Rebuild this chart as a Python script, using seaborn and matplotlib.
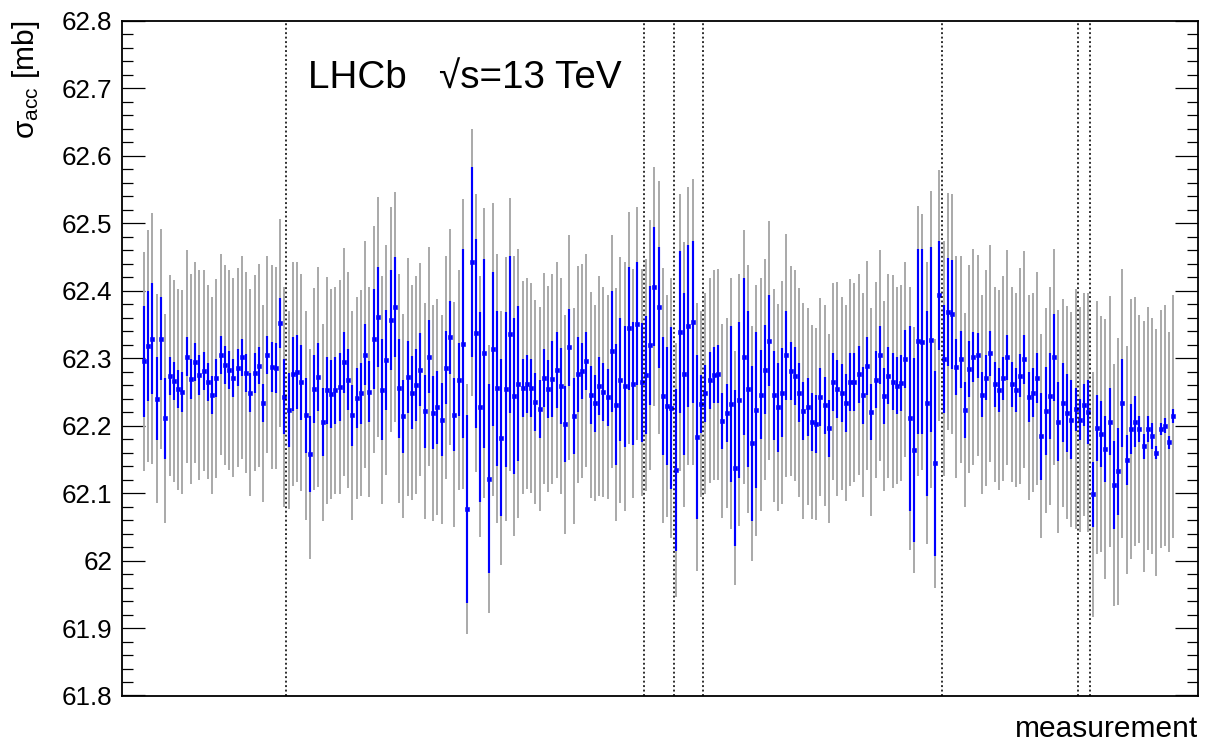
import numpy as np
import pandas as pd
import matplotlib
matplotlib.use("Agg")
import matplotlib.pyplot as plt
from matplotlib.ticker import MultipleLocator, FuncFormatter
import seaborn as sns

# ---- data ----
sigma = [
    62.295, 62.318, 62.329, 62.240, 62.329, 62.211, 62.274, 62.266, 62.254, 62.250,
    62.302, 62.269, 62.294, 62.275, 62.281, 62.265, 62.245, 62.270, 62.305, 62.290,
    62.282, 62.271, 62.286, 62.301, 62.278, 62.249, 62.278, 62.289, 62.233, 62.305,
    62.287, 62.285, 62.352, 62.243, 62.223, 62.277, 62.279, 62.264, 62.215, 62.158,
    62.254, 62.272, 62.205, 62.252, 62.247, 62.252, 62.257, 62.294, 62.268, 62.215,
    62.241, 62.248, 62.305, 62.250, 62.328, 62.361, 62.253, 62.297, 62.357, 62.376,
    62.255, 62.214, 62.272, 62.249, 62.260, 62.283, 62.221, 62.302, 62.219, 62.227,
    62.209, 62.286, 62.331, 62.216, 62.268, 62.321, 62.076, 62.442, 62.337, 62.228,
    62.307, 62.121, 62.313, 62.255, 62.182, 62.254, 62.335, 62.244, 62.262, 62.256,
    62.262, 62.256, 62.235, 62.224, 62.270, 62.254, 62.269, 62.282, 62.259, 62.202,
    62.316, 62.214, 62.276, 62.281, 62.296, 62.245, 62.233, 62.258, 62.250, 62.242,
    62.310, 62.231, 62.268, 62.258, 62.344, 62.262, 62.351, 62.264, 62.275, 62.319,
    62.406, 62.375, 62.244, 62.229, 62.226, 62.134, 62.338, 62.276, 62.347, 62.353,
    62.183, 62.232, 62.248, 62.267, 62.275, 62.276, 62.207, 62.219, 62.232, 62.137,
    62.238, 62.302, 62.254, 62.174, 62.223, 62.246, 62.283, 62.326, 62.245, 62.227,
    62.249, 62.304, 62.281, 62.274, 62.249, 62.222, 62.228, 62.205, 62.202, 62.242,
    62.230, 62.196, 62.265, 62.254, 62.248, 62.233, 62.264, 62.264, 62.276, 62.245,
    62.289, 62.220, 62.268, 62.304, 62.244, 62.274, 62.265, 62.259, 62.263, 62.298,
    62.211, 62.164, 62.325, 62.324, 62.233, 62.327, 62.144, 62.393, 62.299, 62.369,
    62.365, 62.287, 62.298, 62.223, 62.284, 62.301, 62.304, 62.246, 62.271, 62.307,
    62.261, 62.253, 62.270, 62.301, 62.261, 62.253, 62.274, 62.298, 62.242, 62.249,
    62.270, 62.184, 62.222, 62.244, 62.301, 62.206, 62.234, 62.219, 62.209, 62.224,
    62.209, 62.231, 62.220, 62.098, 62.197, 62.188, 62.165, 62.206, 62.112, 62.132,
    62.233, 62.149, 62.195, 62.206, 62.195, 62.169, 62.195, 62.185, 62.160, 62.195,
    62.200, 62.175, 62.214,
]
stat_err = [
    0.082, 0.082, 0.082, 0.061, 0.061, 0.060, 0.028, 0.028, 0.028, 0.030,
    0.029, 0.030, 0.028, 0.029, 0.028, 0.028, 0.028, 0.028, 0.028, 0.028,
    0.028, 0.028, 0.028, 0.028, 0.028, 0.029, 0.029, 0.028, 0.028, 0.028,
    0.037, 0.037, 0.037, 0.055, 0.055, 0.055, 0.055, 0.056, 0.056, 0.056,
    0.050, 0.050, 0.050, 0.050, 0.050, 0.050, 0.050, 0.045, 0.045, 0.045,
    0.045, 0.045, 0.045, 0.045, 0.074, 0.074, 0.075, 0.074, 0.074, 0.074,
    0.074, 0.054, 0.054, 0.054, 0.053, 0.054, 0.054, 0.054, 0.054, 0.054,
    0.054, 0.054, 0.054, 0.054, 0.054, 0.140, 0.139, 0.141, 0.140, 0.141,
    0.140, 0.140, 0.114, 0.115, 0.116, 0.115, 0.116, 0.116, 0.115, 0.043,
    0.043, 0.043, 0.043, 0.043, 0.043, 0.043, 0.056, 0.056, 0.056, 0.056,
    0.057, 0.056, 0.056, 0.042, 0.043, 0.043, 0.042, 0.043, 0.043, 0.042,
    0.090, 0.090, 0.091, 0.090, 0.091, 0.091, 0.091, 0.088, 0.087, 0.088,
    0.088, 0.089, 0.088, 0.088, 0.120, 0.120, 0.120, 0.120, 0.120, 0.120,
    0.121, 0.043, 0.042, 0.042, 0.042, 0.043, 0.042, 0.043, 0.115, 0.115,
    0.116, 0.116, 0.116, 0.115, 0.116, 0.066, 0.066, 0.067, 0.066, 0.066,
    0.066, 0.066, 0.043, 0.043, 0.043, 0.043, 0.043, 0.043, 0.043, 0.043,
    0.042, 0.042, 0.043, 0.043, 0.043, 0.043, 0.043, 0.043, 0.042, 0.042,
    0.043, 0.042, 0.042, 0.043, 0.042, 0.042, 0.042, 0.042, 0.042, 0.043,
    0.137, 0.136, 0.137, 0.137, 0.137, 0.137, 0.137, 0.081, 0.080, 0.080,
    0.081, 0.042, 0.042, 0.042, 0.042, 0.037, 0.033, 0.033, 0.033, 0.033,
    0.033, 0.033, 0.032, 0.033, 0.033, 0.033, 0.032, 0.036, 0.037, 0.036,
    0.037, 0.064, 0.065, 0.064, 0.065, 0.058, 0.058, 0.058, 0.059, 0.032,
    0.030, 0.031, 0.048, 0.048, 0.049, 0.049, 0.049, 0.049, 0.065, 0.065,
    0.065, 0.037, 0.037, 0.038, 0.019, 0.019, 0.019, 0.019, 0.010, 0.009,
    0.011, 0.010, 0.010,
]
total_err = [
    0.162, 0.172, 0.186, 0.155, 0.163, 0.155, 0.149, 0.149, 0.149, 0.151,
    0.158, 0.156, 0.149, 0.155, 0.149, 0.144, 0.146, 0.147, 0.149, 0.148,
    0.148, 0.147, 0.147, 0.150, 0.149, 0.154, 0.145, 0.150, 0.146, 0.146,
    0.151, 0.150, 0.154, 0.163, 0.147, 0.166, 0.163, 0.161, 0.155, 0.155,
    0.150, 0.163, 0.146, 0.168, 0.156, 0.153, 0.159, 0.169, 0.160, 0.155,
    0.150, 0.153, 0.168, 0.156, 0.168, 0.178, 0.169, 0.170, 0.167, 0.170,
    0.170, 0.151, 0.176, 0.160, 0.161, 0.158, 0.160, 0.162, 0.160, 0.160,
    0.155, 0.165, 0.160, 0.167, 0.163, 0.215, 0.185, 0.198, 0.206, 0.193,
    0.215, 0.199, 0.217, 0.200, 0.188, 0.196, 0.202, 0.208, 0.199, 0.158,
    0.156, 0.156, 0.151, 0.151, 0.156, 0.153, 0.155, 0.160, 0.160, 0.162,
    0.167, 0.160, 0.161, 0.159, 0.158, 0.153, 0.145, 0.163, 0.156, 0.151,
    0.173, 0.173, 0.182, 0.185, 0.172, 0.170, 0.173, 0.168, 0.172, 0.185,
    0.177, 0.188, 0.189, 0.164, 0.193, 0.188, 0.205, 0.196, 0.206, 0.212,
    0.199, 0.138, 0.149, 0.152, 0.156, 0.156, 0.144, 0.141, 0.186, 0.173,
    0.187, 0.188, 0.184, 0.174, 0.186, 0.172, 0.164, 0.177, 0.158, 0.153,
    0.165, 0.180, 0.156, 0.156, 0.155, 0.160, 0.146, 0.144, 0.142, 0.147,
    0.149, 0.140, 0.146, 0.159, 0.143, 0.145, 0.153, 0.147, 0.149, 0.151,
    0.155, 0.154, 0.145, 0.156, 0.141, 0.151, 0.158, 0.146, 0.145, 0.145,
    0.195, 0.182, 0.200, 0.190, 0.209, 0.220, 0.185, 0.186, 0.174, 0.175,
    0.178, 0.165, 0.154, 0.144, 0.154, 0.160, 0.149, 0.148, 0.160, 0.161,
    0.145, 0.148, 0.152, 0.159, 0.145, 0.144, 0.160, 0.161, 0.152, 0.148,
    0.158, 0.151, 0.152, 0.162, 0.160, 0.165, 0.154, 0.158, 0.159, 0.178,
    0.166, 0.165, 0.177, 0.181, 0.187, 0.175, 0.193, 0.186, 0.179, 0.198,
    0.199, 0.169, 0.193, 0.184, 0.169, 0.186, 0.180, 0.175, 0.183, 0.177,
    0.178, 0.163, 0.180,
]
# boundaries between measurement groups (in measurement index units)
group_bounds = [34.5, 118.5, 125.5, 132.5, 188.5, 220.5, 223.5]

# ---- figure ----
sns.set_theme(style="ticks")
plt.rcParams["font.family"] = ["Liberation Sans", "DejaVu Sans"]
plt.rcParams["mathtext.fontset"] = "custom"
plt.rcParams["mathtext.rm"] = "Liberation Sans"
plt.rcParams["mathtext.it"] = "Liberation Sans:italic"
plt.rcParams["mathtext.bf"] = "Liberation Sans:bold"

idx = np.arange(1, len(sigma) + 1)
df = pd.DataFrame({"measurement": idx, "sigma": sigma,
                   "stat": stat_err, "total": total_err})

fig = plt.figure(figsize=(12.08, 7.51), dpi=100)
ax = fig.add_axes([122 / 1208, 1 - 695.5 / 751, 1076 / 1208, 674.8 / 751])

grey = "#a6a6a6"
blue = "#0000ff"

ax.errorbar(df["measurement"], df["sigma"], yerr=df["total"], fmt="none",
            ecolor=grey, elinewidth=1.35, capsize=0, zorder=2)
ax.errorbar(df["measurement"], df["sigma"], yerr=df["stat"], fmt="none",
            ecolor=blue, elinewidth=1.55, capsize=0, zorder=3)
sns.scatterplot(data=df, x="measurement", y="sigma", marker="s", s=6,
                color=blue, edgecolor=blue, linewidth=0.4, ax=ax, zorder=4,
                legend=False)

for b in group_bounds:
    ax.axvline(b, color="black", lw=1.15, ls=(0, (1.2, 1.6)), zorder=5)

ax.set_xlim(-4.17, 248.8)
ax.set_ylim(61.8, 62.8)

ax.set_xticks([])
ax.yaxis.set_major_locator(MultipleLocator(0.1))
ax.yaxis.set_minor_locator(MultipleLocator(0.02))
ax.yaxis.set_major_formatter(FuncFormatter(lambda v, p: "%g" % round(v, 2)))
ax.tick_params(axis="y", which="both", direction="in", left=True, right=True,
               labelleft=True, labelright=False, colors="black",
               labelsize=18.7, pad=7)
ax.tick_params(axis="y", which="major", length=16.5, width=0.9)
ax.tick_params(axis="y", which="minor", length=8, width=0.9)

for s in ax.spines.values():
    s.set_visible(True)
    s.set_color("black")
    s.set_linewidth(1.3)

ax.set_ylabel(r"$\mathrm{\sigma}_{\mathrm{acc}}$ [mb]", fontsize=21.5,
              loc="top", color="black")
ax.yaxis.set_label_coords(-0.0743, 1.0)

ax.set_xlabel("measurement", fontsize=21.5, loc="right", color="black")
ax.xaxis.set_label_coords(1.0, -0.0615)
ax.xaxis.label.set_verticalalignment("baseline")

ax.text(0.173, 0.8996, "LHCb   \u221as=13 TeV", transform=ax.transAxes,
        fontsize=27.8, ha="left", va="baseline", color="black")

ax.set_facecolor("white")
fig.patch.set_facecolor("white")
fig.savefig("out.png", dpi=100)
